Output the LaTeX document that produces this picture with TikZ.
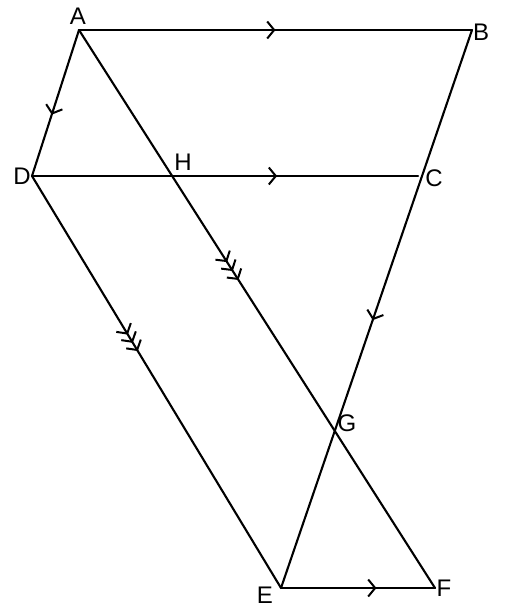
\documentclass[tikz,border=0pt]{standalone}
\usepackage{fontspec}
\setmainfont{Liberation Sans}
\usetikzlibrary{arrows.meta,decorations.markings}
\tikzset{
  seg/.style={line width=2.1pt, line cap=round, line join=round},
  chev/.tip={Straight Barb[length=7pt,width=17pt,line width=2pt]},
  one/.style={postaction={decorate}, decoration={markings, mark=at position #1 with {\arrow{chev}}}},
  three/.style n args={3}{postaction={decorate}, decoration={markings,
     mark=at position #1 with {\arrow{chev}},
     mark=at position #2 with {\arrow{chev}},
     mark=at position #3 with {\arrow{chev}}}},
  lbl/.style={font=\fontsize{24}{28}\selectfont, inner sep=0pt}
}
\begin{document}
\begin{tikzpicture}[x=1pt,y=-1pt]
\useasboundingbox (0,0) rectangle (504,613);
\coordinate (A) at (79,30);
\coordinate (B) at (472,30);
\coordinate (D) at (32,176);
\coordinate (C) at (418,176);
\coordinate (E) at (281,588);
\coordinate (F) at (435,588);
\coordinate (H) at (172,176);
\coordinate (G) at (335,431);
\draw[seg, one=0.5] (A) -- (B);
\draw[seg, one=0.635] (D) -- (C);
\draw[seg, one=0.62] (E) -- (F);
\draw[seg, one=0.58] (A) -- (D);
\draw[seg, one=0.52] (B) -- (E);
\draw[seg, three={0.416}{0.432}{0.448}] (A) -- (F);
\draw[seg, three={0.385}{0.405}{0.425}] (D) -- (E);
\node[lbl] (lA) at (78,16) {A};
\node[lbl] (lB) at (481,32) {B};
\node[lbl] (lC) at (434,178) {C};
\node[lbl] (lD) at (22,176) {D};
\node[lbl] (lH) at (183,162) {H};
\node[lbl] (lG) at (347,423) {G};
\node[lbl] (lE) at (265,595) {E};
\node[lbl] (lF) at (444,588) {F};
\end{tikzpicture}
\end{document}
